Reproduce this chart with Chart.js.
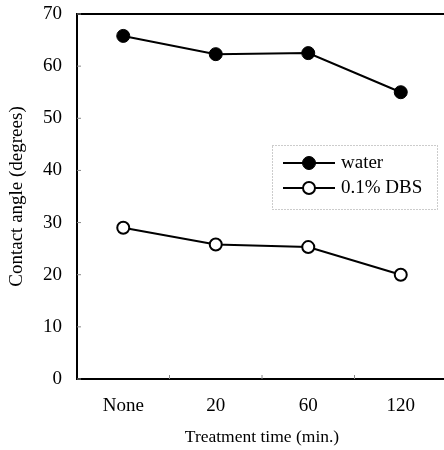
<!DOCTYPE html>
<html>
<head>
<meta charset="utf-8">
<script src="https://cdn.jsdelivr.net/npm/chart.js@4"></script>
<style>
  html, body { margin: 0; padding: 0; background: #fff; overflow: hidden; }
  #wrap { width: 444px; height: 450px; overflow: hidden; }
  canvas { display: block; }
</style>
</head>
<body>
<div id="wrap"><canvas id="contactChart" width="455" height="450"></canvas></div>
<script>
// values
const categories = ['None', '20', '60', '120'];
const waterValues = [65.8, 62.3, 62.5, 55.0];
const dbsValues = [29.0, 25.8, 25.3, 20.0];
const yTicks = [0, 10, 20, 30, 40, 50, 60, 70];

const serif = '"Liberation Serif", "DejaVu Serif", serif';

// frame, inner tick marks and the boxed legend
const framePlugin = {
    id: 'frame',
    afterDraw(chart) {
        const { ctx, chartArea: a, scales } = chart;
        ctx.save();
        ctx.strokeStyle = '#000';
        ctx.lineWidth = 2;
        ctx.strokeRect(a.left, a.top, a.right - a.left, a.bottom - a.top);

        // little inward ticks
        ctx.lineWidth = 1;
        ctx.strokeStyle = '#888';
        yTicks.forEach(v => {
            const y = scales.y.getPixelForValue(v);
            ctx.beginPath();
            ctx.moveTo(a.left, y);
            ctx.lineTo(a.left + 4, y);
            ctx.stroke();
        });
        for (let i = 1; i < categories.length; i++) {
            const x = (scales.x.getPixelForValue(i - 1) + scales.x.getPixelForValue(i)) / 2;
            ctx.beginPath();
            ctx.moveTo(x, a.bottom);
            ctx.lineTo(x, a.bottom - 4);
            ctx.stroke();
        }

        // legend box
        const box = { x: 272, y: 145, w: 165, h: 64 };
        ctx.fillStyle = '#fff';
        ctx.fillRect(box.x, box.y, box.w, box.h);
        ctx.strokeStyle = '#999';
        ctx.setLineDash([1, 2]);
        ctx.strokeRect(box.x + 0.5, box.y + 0.5, box.w, box.h);
        ctx.setLineDash([]);

        const rows = [163, 188];
        chart.data.datasets.forEach((ds, i) => {
            const y = rows[i];
            ctx.strokeStyle = ds.borderColor;
            ctx.lineWidth = 2;
            ctx.beginPath();
            ctx.moveTo(283, y);
            ctx.lineTo(335, y);
            ctx.stroke();
            ctx.beginPath();
            ctx.arc(309, y, ds.pointRadius, 0, Math.PI * 2);
            ctx.fillStyle = ds.pointBackgroundColor;
            ctx.fill();
            ctx.lineWidth = ds.pointBorderWidth;
            ctx.strokeStyle = ds.pointBorderColor;
            ctx.stroke();
            ctx.fillStyle = '#000';
            ctx.font = '19px ' + serif;
            ctx.textBaseline = 'middle';
            ctx.textAlign = 'left';
            ctx.fillText(ds.label, 341, y);
        });
        ctx.restore();
    }
};

new Chart(document.getElementById('contactChart'), {
    type: 'line',
    data: {
        labels: categories,
        datasets: [{
            label: 'water',
            data: waterValues,
            borderColor: '#000',
            borderWidth: 2,
            pointRadius: 6.5,
            pointBackgroundColor: '#000',
            pointBorderColor: '#000',
            pointBorderWidth: 1,
            tension: 0
        }, {
            label: '0.1% DBS',
            data: dbsValues,
            borderColor: '#000',
            borderWidth: 2,
            pointRadius: 6,
            pointBackgroundColor: '#fff',
            pointBorderColor: '#000',
            pointBorderWidth: 2,
            tension: 0
        }]
    },
    options: {
        responsive: false,
        animation: false,
        layout: { padding: { top: 14, right: 3, left: 0, bottom: 0 } },
        plugins: {
            legend: { display: false },
            tooltip: { enabled: false }
        },
        scales: {
            x: {
                offset: true,
                grid: { display: false, drawTicks: false },
                border: { display: false },
                ticks: { color: '#000', font: { family: serif, size: 19 }, padding: 16 },
                title: {
                    display: true,
                    text: 'Treatment time (min.)',
                    color: '#000',
                    font: { family: serif, size: 17.5 },
                    padding: { top: 0, bottom: 2.5 }
                },
                afterFit(scale) {
                    scale.height = 71;
                    scale.paddingLeft = 0;
                    scale.paddingRight = 0;
                }
            },
            y: {
                min: 0,
                max: 70,
                grid: { display: false, drawTicks: false },
                border: { display: false },
                ticks: {
                    stepSize: 10,
                    color: '#000',
                    font: { family: serif, size: 19 },
                    padding: 15
                },
                title: {
                    display: true,
                    text: 'Contact angle (degrees)',
                    color: '#000',
                    font: { family: serif, size: 19 },
                    padding: { top: 6, bottom: 0 }
                },
                afterFit(scale) {
                    scale.width = 77;
                    scale.paddingTop = 0;
                    scale.paddingBottom = 0;
                }
            }
        }
    },
    plugins: [framePlugin]
});
</script>
</body>
</html>
